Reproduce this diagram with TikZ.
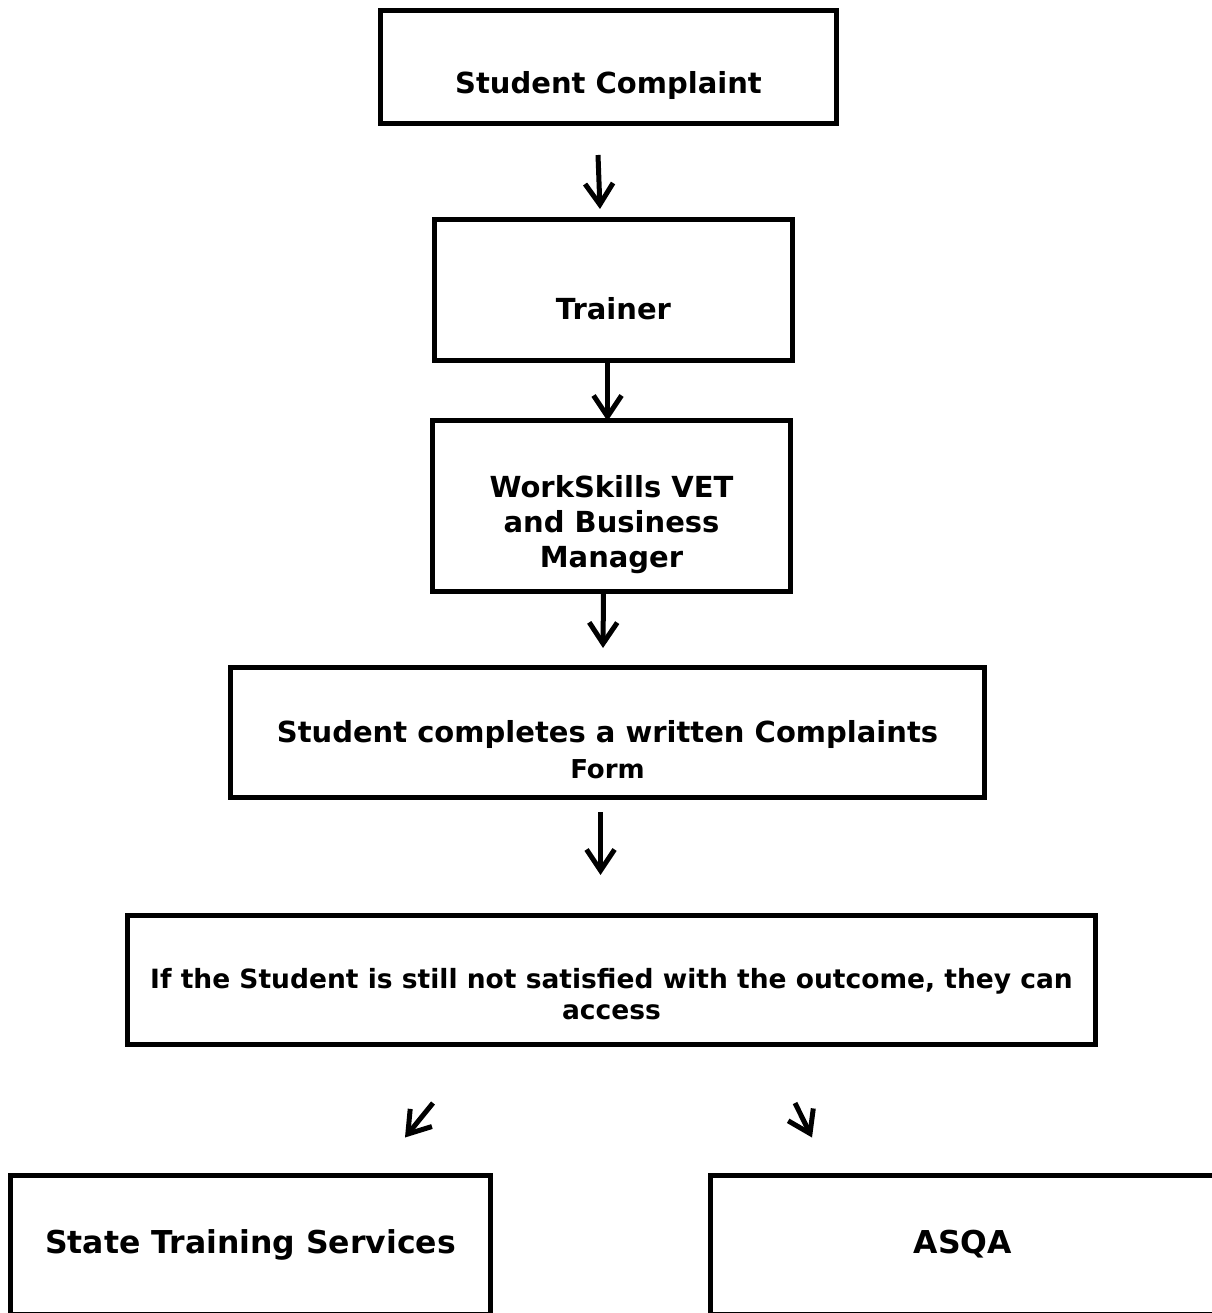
\documentclass[tikz,border=0pt]{standalone}
\usepackage{fontspec}
\setmainfont{DejaVu Sans}
\usetikzlibrary{arrows.meta, calc, positioning}

\begin{document}
\begin{tikzpicture}[x=1pt, y=-1pt,
    box/.style={draw, line width=5pt, rectangle, align=center, inner sep=0pt,
        font=\bfseries\fontsize{29}{35}\selectfont},
    flow/.style={line width=5pt, -{Straight Barb[length=21pt,width=28pt]}}]
    \useasboundingbox (0,0) rectangle (1211,1313);

    % Define the boxes of the complaint path
    \node[box, minimum width=456pt, minimum height=113pt] (sc) at (608.5,67) {\strut\\Student Complaint};
    \node[box, minimum width=358pt, minimum height=141pt] (trainer) at (613.5,290) {\strut\\Trainer};
    \node[box, minimum width=358pt, minimum height=171pt] (manager) at (611.5,506)
        {\strut\\WorkSkills VET\\and Business\\Manager};
    \node[box, minimum width=754pt, minimum height=130pt, font=\bfseries\fontsize{29}{36}\selectfont]
        (form) at (607.5,732.5) {\strut\\[-4pt]Student completes a written Complaints\\{\fontsize{26}{36}\selectfont Form}};
    \node[box, minimum width=968pt, minimum height=129pt, font=\bfseries\fontsize{26.5}{31}\selectfont]
        (access) at (611.5,980) {\strut\\[-4pt]If the Student is still not satisfied with the outcome, they can\\access};

    % Place the two outside bodies (cut off at the bottom)
    \node[box, minimum width=480pt, minimum height=139pt, font=\bfseries\fontsize{31.5}{37}\selectfont]
        (sts) at (250.5,1244.5) {State Training Services};
    \node[box, minimum width=506pt, minimum height=139pt, font=\bfseries\fontsize{31.5}{37}\selectfont]
        (asqa) at (963,1244.5) {ASQA};

    % Draw the arrows between the boxes
    \draw[flow] ($(sc.south)+(-10.5,29)$) -- ($(trainer.north)+(-13.5,-8)$);
    \draw[flow] ($(trainer.south)+(-6,-2)$) -- ($(manager.north)+(-4,3)$);
    \draw[flow] ($(manager.south)+(-8,-2)$) -- ($(form.north)+(-4.5,-17)$);
    \draw[flow] ($(form.south)+(-7,12)$) -- ($(access.north)+(-11,-38)$);
    \draw[flow] ($(access.south)+(-178.5,56)$) -- ($(sts.north)+(154.5,-35)$);
    \draw[flow] ($(access.south)+(183.5,56)$) -- ($(asqa.north)+(-151,-35)$);
\end{tikzpicture}
\end{document}
